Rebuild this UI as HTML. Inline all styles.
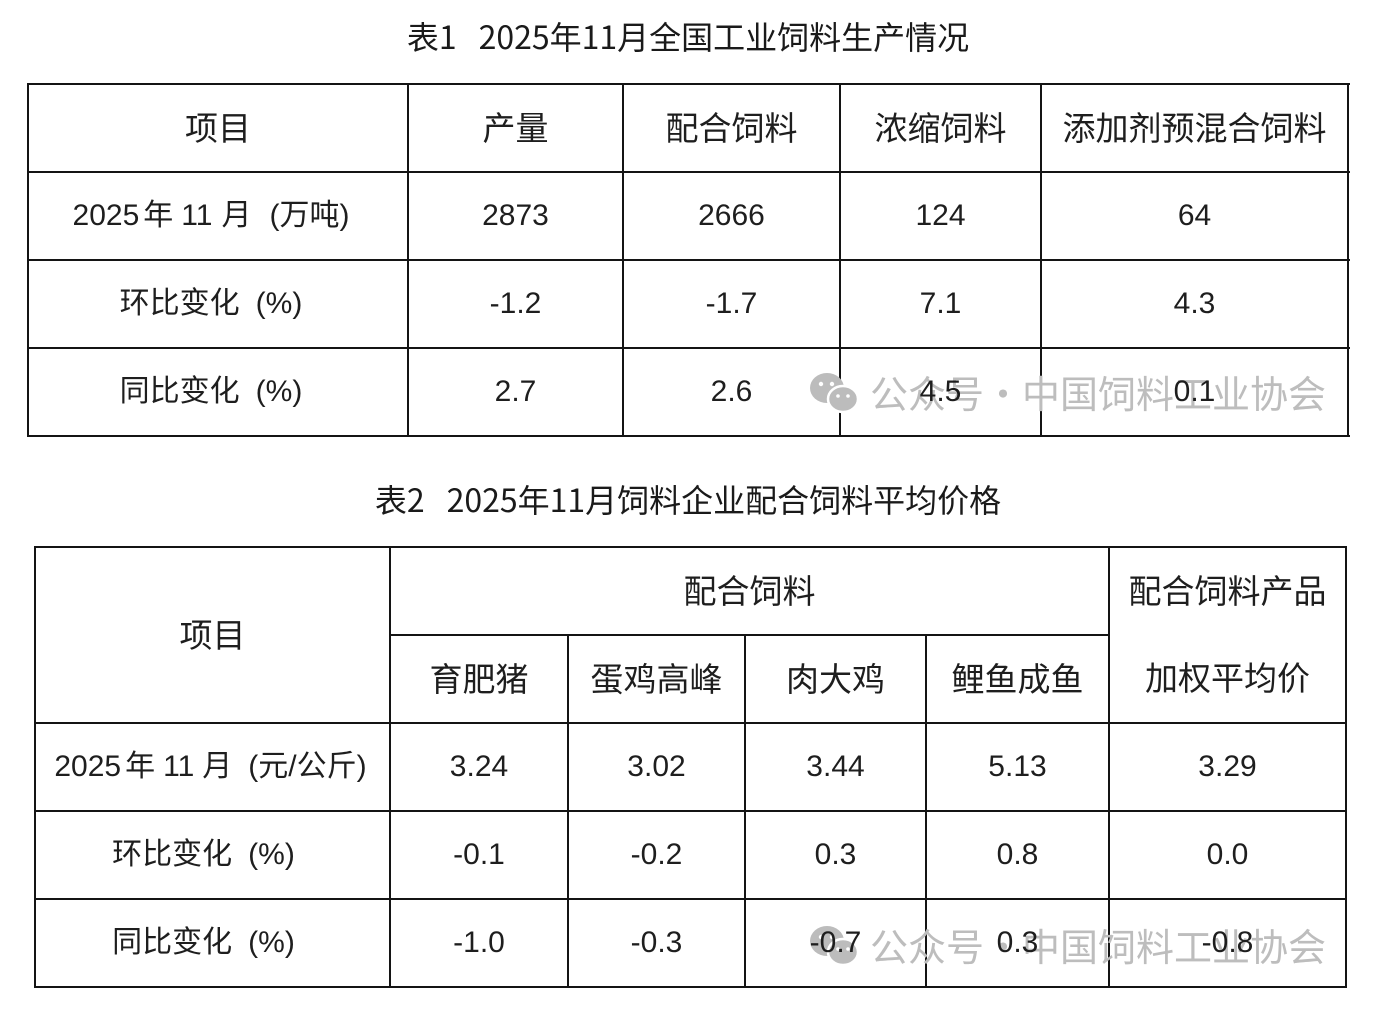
<!DOCTYPE html>
<html><head><meta charset="utf-8">
<style>
html,body{margin:0;padding:0;background:#fff;}
body{width:1393px;height:1024px;position:relative;overflow:hidden;font-family:"Liberation Sans","Noto Sans CJK SC",sans-serif;color:#1e1e1e;}
.h{position:absolute;height:2px;background:#141414;}
.v{position:absolute;width:2px;background:#141414;}
.c{position:absolute;display:flex;align-items:center;justify-content:center;white-space:nowrap;line-height:1;font-size:30px;z-index:3;}
.hd{font-size:33px;}
.t{position:absolute;left:0;width:1376px;text-align:center;font-size:32px;line-height:1;white-space:nowrap;color:#1a1a1a;font-family:"Noto Sans CJK SC",sans-serif;}
.t .g{display:inline-block;width:22px;}
.wm{position:absolute;left:808px;height:44px;z-index:2;display:flex;align-items:center;}
.wm span{font-family:"Noto Sans CJK SC",sans-serif;font-size:38px;line-height:1;color:#bdbdbd;white-space:nowrap;}
.wm .dot{display:inline-block;width:38px;text-align:center;}
.lbl span{display:inline-block;}
</style></head><body>

<div class="t" style="top:20px;">表1<span class="g"></span>2025年11月全国工业饲料生产情况</div>

<!-- Table 1 lines -->
<div class="h" style="left:27px;top:83px;width:1323px;"></div>
<div class="h" style="left:27px;top:171px;width:1323px;"></div>
<div class="h" style="left:27px;top:259px;width:1323px;"></div>
<div class="h" style="left:27px;top:347px;width:1323px;"></div>
<div class="h" style="left:27px;top:435px;width:1323px;"></div>
<div class="v" style="left:27px;top:83px;height:354px;"></div>
<div class="v" style="left:407px;top:83px;height:354px;"></div>
<div class="v" style="left:622px;top:83px;height:354px;"></div>
<div class="v" style="left:839px;top:83px;height:354px;"></div>
<div class="v" style="left:1040px;top:83px;height:354px;"></div>
<div class="v" style="left:1347px;top:83px;height:354px;"></div>

<!-- Table 1 text -->
<div class="c hd" style="left:29px;top:85px;width:378px;height:86px;">项目</div>
<div class="c hd" style="left:409px;top:85px;width:213px;height:86px;">产量</div>
<div class="c hd" style="left:624px;top:85px;width:215px;height:86px;">配合饲料</div>
<div class="c hd" style="left:841px;top:85px;width:199px;height:86px;">浓缩饲料</div>
<div class="c hd" style="left:1042px;top:85px;width:305px;height:86px;">添加剂预混合饲料</div>

<div class="c lbl" style="left:29px;top:173px;width:364px;height:86px;"><span>2025</span><span style="margin-left:4px">年</span><span style="margin-left:8px">11</span><span style="margin-left:9px">月</span><span style="margin-left:18px">(万吨)</span></div>
<div class="c" style="left:409px;top:173px;width:213px;height:86px;">2873</div>
<div class="c" style="left:624px;top:173px;width:215px;height:86px;">2666</div>
<div class="c" style="left:841px;top:173px;width:199px;height:86px;">124</div>
<div class="c" style="left:1042px;top:173px;width:305px;height:86px;">64</div>

<div class="c lbl" style="left:29px;top:261px;width:364px;height:86px;"><span>环比变化</span><span style="margin-left:16px">(%)</span></div>
<div class="c" style="left:409px;top:261px;width:213px;height:86px;">-1.2</div>
<div class="c" style="left:624px;top:261px;width:215px;height:86px;">-1.7</div>
<div class="c" style="left:841px;top:261px;width:199px;height:86px;">7.1</div>
<div class="c" style="left:1042px;top:261px;width:305px;height:86px;">4.3</div>

<div class="c lbl" style="left:29px;top:349px;width:364px;height:86px;"><span>同比变化</span><span style="margin-left:16px">(%)</span></div>
<div class="c" style="left:409px;top:349px;width:213px;height:86px;">2.7</div>
<div class="c" style="left:624px;top:349px;width:215px;height:86px;">2.6</div>
<div class="c" style="left:841px;top:349px;width:199px;height:86px;">4.5</div>
<div class="c" style="left:1042px;top:349px;width:305px;height:86px;">0.1</div>

<div class="wm" style="top:370px;">
<svg width="52" height="44" viewBox="0 0 52 44">
<ellipse cx="19" cy="18" rx="17" ry="15" fill="#bcbcbc"/>
<ellipse cx="35" cy="29" rx="15" ry="13" fill="#bcbcbc" stroke="#fff" stroke-width="2.5"/>
<circle cx="13" cy="14" r="2.2" fill="#fff"/><circle cx="24" cy="14" r="2.2" fill="#fff"/>
<circle cx="30" cy="26" r="1.8" fill="#fff"/><circle cx="40" cy="26" r="1.8" fill="#fff"/>
</svg>
<span style="margin-left:10px">公众号</span><span class="dot">·</span><span>中国饲料工业协会</span></div>

<div class="t" style="top:483px;">表2<span class="g"></span>2025年11月饲料企业配合饲料平均价格</div>

<!-- Table 2 lines -->
<div class="h" style="left:34px;top:546px;width:1313px;"></div>
<div class="h" style="left:389px;top:634px;width:721px;"></div>
<div class="h" style="left:34px;top:722px;width:1313px;"></div>
<div class="h" style="left:34px;top:810px;width:1313px;"></div>
<div class="h" style="left:34px;top:898px;width:1313px;"></div>
<div class="h" style="left:34px;top:986px;width:1313px;"></div>
<div class="v" style="left:34px;top:546px;height:442px;"></div>
<div class="v" style="left:389px;top:546px;height:442px;"></div>
<div class="v" style="left:567px;top:634px;height:354px;"></div>
<div class="v" style="left:744px;top:634px;height:354px;"></div>
<div class="v" style="left:925px;top:634px;height:354px;"></div>
<div class="v" style="left:1108px;top:546px;height:442px;"></div>
<div class="v" style="left:1345px;top:546px;height:442px;"></div>

<!-- Table 2 text -->
<div class="c hd" style="left:36px;top:548px;width:353px;height:174px;">项目</div>
<div class="c hd" style="left:391px;top:548px;width:717px;height:86px;">配合饲料</div>
<div class="c hd" style="left:1110px;top:548px;width:235px;height:86px;">配合饲料产品</div>
<div class="c hd" style="left:1110px;top:636px;width:235px;height:84px;">加权平均价</div>
<div class="c hd" style="left:391px;top:636px;width:176px;height:86px;">育肥猪</div>
<div class="c hd" style="left:569px;top:636px;width:175px;height:86px;">蛋鸡高峰</div>
<div class="c hd" style="left:746px;top:636px;width:179px;height:86px;">肉大鸡</div>
<div class="c hd" style="left:927px;top:636px;width:181px;height:86px;">鲤鱼成鱼</div>

<div class="c lbl" style="left:36px;top:724px;width:349px;height:86px;"><span>2025</span><span style="margin-left:4px">年</span><span style="margin-left:8px">11</span><span style="margin-left:8px">月</span><span style="margin-left:16px">(元/公斤)</span></div>
<div class="c" style="left:391px;top:724px;width:176px;height:86px;">3.24</div>
<div class="c" style="left:569px;top:724px;width:175px;height:86px;">3.02</div>
<div class="c" style="left:746px;top:724px;width:179px;height:86px;">3.44</div>
<div class="c" style="left:927px;top:724px;width:181px;height:86px;">5.13</div>
<div class="c" style="left:1110px;top:724px;width:235px;height:86px;">3.29</div>

<div class="c lbl" style="left:36px;top:812px;width:335px;height:86px;"><span>环比变化</span><span style="margin-left:16px">(%)</span></div>
<div class="c" style="left:391px;top:812px;width:176px;height:86px;">-0.1</div>
<div class="c" style="left:569px;top:812px;width:175px;height:86px;">-0.2</div>
<div class="c" style="left:746px;top:812px;width:179px;height:86px;">0.3</div>
<div class="c" style="left:927px;top:812px;width:181px;height:86px;">0.8</div>
<div class="c" style="left:1110px;top:812px;width:235px;height:86px;">0.0</div>

<div class="c lbl" style="left:36px;top:900px;width:335px;height:86px;"><span>同比变化</span><span style="margin-left:16px">(%)</span></div>
<div class="c" style="left:391px;top:900px;width:176px;height:86px;">-1.0</div>
<div class="c" style="left:569px;top:900px;width:175px;height:86px;">-0.3</div>
<div class="c" style="left:746px;top:900px;width:179px;height:86px;">-0.7</div>
<div class="c" style="left:927px;top:900px;width:181px;height:86px;">0.3</div>
<div class="c" style="left:1110px;top:900px;width:235px;height:86px;">-0.8</div>

<div class="wm" style="top:923px;">
<svg width="52" height="44" viewBox="0 0 52 44">
<ellipse cx="19" cy="18" rx="17" ry="15" fill="#bcbcbc"/>
<ellipse cx="35" cy="29" rx="15" ry="13" fill="#bcbcbc" stroke="#fff" stroke-width="2.5"/>
<circle cx="13" cy="14" r="2.2" fill="#fff"/><circle cx="24" cy="14" r="2.2" fill="#fff"/>
<circle cx="30" cy="26" r="1.8" fill="#fff"/><circle cx="40" cy="26" r="1.8" fill="#fff"/>
</svg>
<span style="margin-left:10px">公众号</span><span class="dot">·</span><span>中国饲料工业协会</span></div>

</body></html>
